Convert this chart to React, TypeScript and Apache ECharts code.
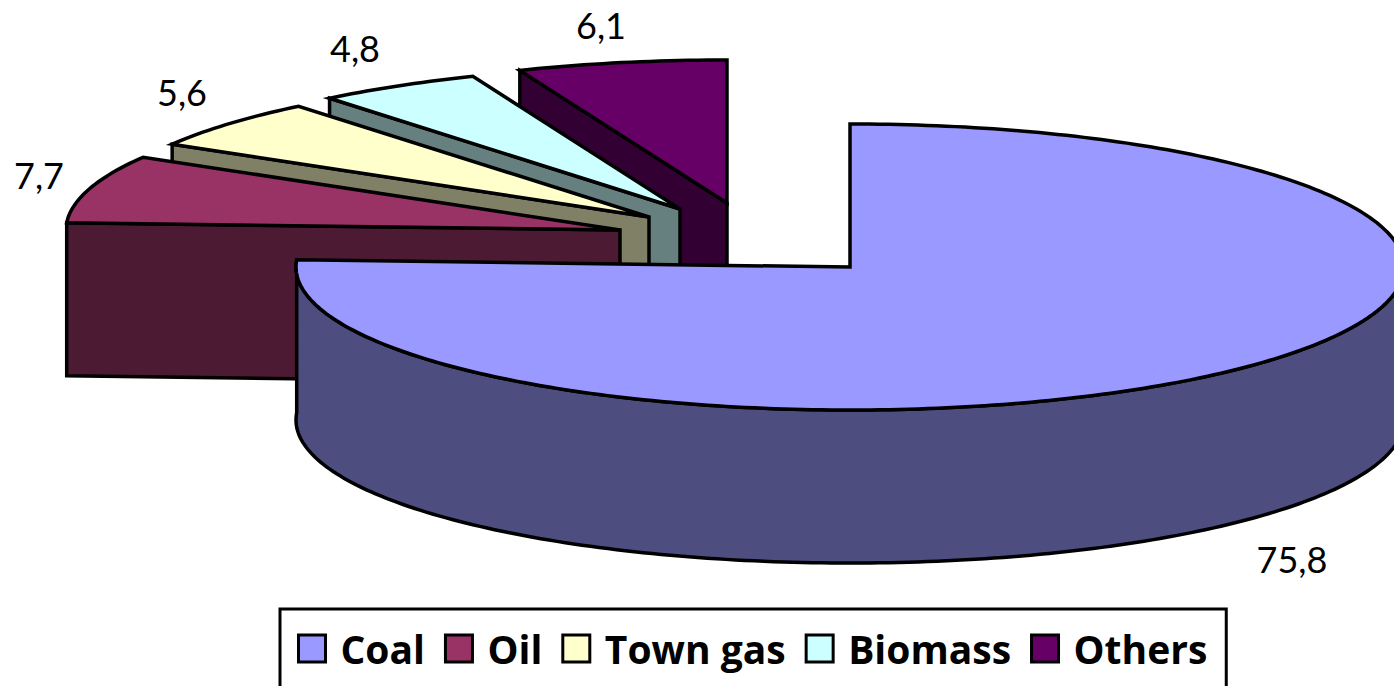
import React, { useEffect, useRef } from "react";
import * as echarts from "echarts";

const categories = ["Coal", "Oil", "Town gas", "Biomass", "Others"];
const shares = [75.8, 7.7, 5.6, 4.8, 6.1];

const topColors = ["#9999FF", "#993366", "#FFFFCC", "#CCFFFF", "#660066"];
const sideColors = ["#4D4D80", "#4D1A33", "#808066", "#668080", "#330033"];

// Layout of the exploded slices (apex of each slice on the page)
const apexX = [850, 620, 649, 680, 727];
const apexY = [267, 230, 217, 209, 203];
const labelX = [1292, 39, 182, 355, 601];
const labelY = [559, 175, 92, 48, 25];
const RX = 554;
const RY = 143;
const DEPTH = 153;
const LINE = 3.5;
const LABEL_FONT = "Lato, Carlito, sans-serif";
const LEGEND_FONT = "'Open Sans', Lato, sans-serif";

const total = shares.reduce((a, b) => a + b, 0);
const startShare = shares.map((_, i) => shares.slice(0, i).reduce((a, b) => a + b, 0));

function rim(i: number, deg: number): number[] {
  const r = (deg * Math.PI) / 180;
  return [apexX[i] + RX * Math.sin(r), apexY[i] - RY * Math.cos(r)];
}

function arc(i: number, from: number, to: number): number[][] {
  const pts: number[][] = [];
  const n = Math.max(2, Math.ceil(Math.abs(to - from)));
  for (let k = 0; k <= n; k++) pts.push(rim(i, from + ((to - from) * k) / n));
  return pts;
}

function renderSlice(i: number) {
  return (_params: any, api: any) => {
    const value = api.value(0) as number;
    const a0 = (startShare[i] / total) * 360;
    const a1 = a0 + (value / total) * 360;
    const apex = [apexX[i], apexY[i]];
    const down = (p: number[]) => [p[0], p[1] + DEPTH];
    const line = { stroke: "#000", lineWidth: LINE, lineJoin: "miter" };
    const children: any[] = [];

    if (i === 0) {
      // outer wall of the large slice, visible on the front half
      const upper = arc(i, 90, a1);
      children.push({
        type: "polygon",
        shape: { points: [...upper, ...upper.map(down).reverse()] },
        style: { fill: sideColors[i], ...line },
      });
    } else {
      // cut face that looks towards the viewer
      const tip = rim(i, a0);
      children.push({
        type: "polygon",
        shape: { points: [apex, tip, down(tip), down(apex)] },
        style: { fill: sideColors[i], ...line },
      });
    }
    children.push({
      type: "polygon",
      shape: { points: [apex, ...arc(i, a0, a1)] },
      style: { fill: topColors[i], ...line },
    });
    children.push({
      type: "text",
      style: {
        text: String(value).replace(".", ","),
        x: labelX[i],
        y: labelY[i],
        align: "center",
        verticalAlign: "middle",
        fill: "#000",
        fontFamily: LABEL_FONT,
        fontSize: 36,
      },
    });
    return { type: "group", children };
  };
}

export default function App() {
  const ref = useRef<HTMLDivElement>(null);
  useEffect(() => {
    const chart = echarts.init(ref.current!, undefined, { renderer: "svg" });
    const drawOrder = [4, 3, 2, 1, 0];
    chart.setOption({
      animation: false,
      backgroundColor: "#fff",
      legend: {
        left: 280,
        top: 609,
        orient: "horizontal",
        data: categories,
        icon: "rect",
        itemWidth: 27,
        itemHeight: 27,
        itemGap: 19,
        padding: [20, 19, 60, 17],
        borderColor: "#000",
        borderWidth: 3,
        selectedMode: false,
        itemStyle: { borderColor: "#000", borderWidth: 3 },
        textStyle: {
          color: "#000",
          fontFamily: LEGEND_FONT,
          fontWeight: "bold",
          fontSize: 39,
          padding: [0, 0, 0, 10],
        },
      },
      series: drawOrder.map((i) => ({
        type: "custom",
        name: categories[i],
        coordinateSystem: "none",
        silent: true,
        itemStyle: { color: topColors[i] },
        data: [[shares[i]]],
        renderItem: renderSlice(i),
      })),
    });
    return () => chart.dispose();
  }, []);
  return (
    <div
      ref={ref}
      style={{ position: "fixed", left: 0, top: 0, width: 1394, height: 686 }}
    />
  );
}
